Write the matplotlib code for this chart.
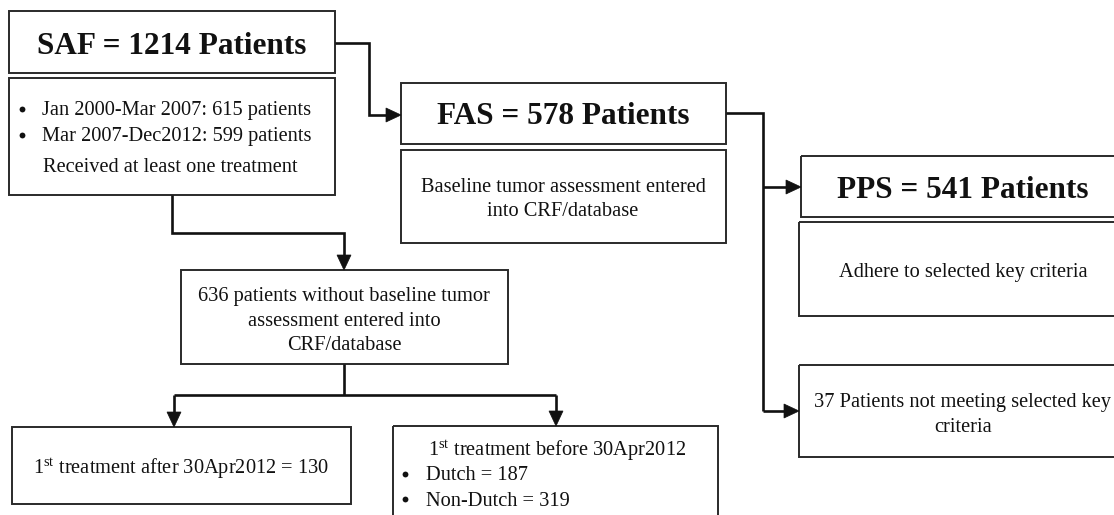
import matplotlib
matplotlib.use("Agg")
import matplotlib.pyplot as plt
from matplotlib.patches import Rectangle, Polygon

plt.rcParams['font.family'] = ['Liberation Serif', 'DejaVu Serif']
plt.rcParams['mathtext.fontset'] = 'custom'
plt.rcParams['mathtext.rm'] = 'Liberation Serif'
plt.rcParams['mathtext.it'] = 'Liberation Serif:italic'
plt.rcParams['mathtext.bf'] = 'Liberation Serif:bold'

# ---- content ----
titles = ["SAF = 1214 Patients", "FAS = 578 Patients", "PPS = 541 Patients"]
saf_bullets = ["Jan 2000-Mar 2007: 615 patients", "Mar 2007-Dec2012: 599 patients"]
saf_note = "Received at least one treatment"
fas_note = ["Baseline tumor assessment entered", "into CRF/database"]
pps_note = "Adhere to selected key criteria"
pps_excluded = ["37 Patients not meeting selected key", "criteria"]
no_baseline = ["636 patients without baseline tumor", "assessment entered into", "CRF/database"]
after_label = r"1$^{\mathrm{st}}$ treatment after 30Apr2012 = 130"
before_label = r"1$^{\mathrm{st}}$ treatment before 30Apr2012"
before_bullets = ["Dutch = 187", "Non-Dutch = 319"]

W, H = 1114, 515
fig = plt.figure(figsize=(W / 100, H / 100), dpi=100)
ax = fig.add_axes([0, 0, 1, 1])
ax.set_xlim(0, W)
ax.set_ylim(H, 0)
ax.axis('off')

BOX_LW = 1.4
BOX_C = '#2a2a2a'
LINE_LW = 1.9
LINE_C = '#111111'
FS_T = 22.5
FS = 14.7
DY = 3  # visual centring offset for text


def box(x0, y0, x1, y1):
    ax.add_patch(Rectangle((x0, y0), x1 - x0, y1 - y0, fill=False,
                           lw=BOX_LW, ec=BOX_C, clip_on=True))


def path(xs, ys):
    ax.plot(xs, ys, color=LINE_C, lw=LINE_LW, solid_joinstyle='miter',
            solid_capstyle='butt')


def head(x, y, direction, L=15, hw=7):
    if direction == 'right':
        pts = [(x, y), (x - L, y - hw), (x - L, y + hw)]
    else:  # down
        pts = [(x, y), (x - hw, y - L), (x + hw, y - L)]
    ax.add_patch(Polygon(pts, closed=True, fc=LINE_C, ec=LINE_C, lw=0.5))


def txt(x, y, s, size=FS, weight='normal', ha='center'):
    ax.text(x, y + DY, s, fontsize=size, fontweight=weight, ha=ha,
            va='center', color='#111111')


def bullet(x, y):
    ax.plot([x], [y], marker='o', ms=4.2, color='#111111', mec='none')


# ---- SAF ----
box(9, 11, 335, 73)
txt(172, 43, titles[0], FS_T, 'bold')
box(9, 78, 335, 195)
for i, b in enumerate(saf_bullets):
    y = 108 + i * 26
    bullet(22, y + 1)
    txt(42, y, b, ha='left')
txt(43, 165, saf_note, ha='left')

# ---- FAS ----
box(401, 83, 726, 144)
txt(563, 114, titles[1], FS_T, 'bold')
box(401, 150, 726, 243)
for i, s in enumerate(fas_note):
    txt(563, 185 + i * 23, s)

# ---- PPS ----
box(801, 156, 1125, 217)
txt(963, 187, titles[2], FS_T, 'bold')
box(799, 222, 1125, 316)
txt(963, 270, pps_note)
box(799, 365, 1125, 457)
for i, s in enumerate(pps_excluded):
    txt(963, 399 + i * 25, s)

# ---- no baseline ----
box(181, 270, 508, 364)
for i, s in enumerate(no_baseline):
    txt(344, 294 + i * 24, s)

# ---- bottom boxes ----
box(12, 427, 351, 504)
txt(181, 466, after_label)
box(393, 426, 718, 530)
txt(557, 448, before_label)
for i, s in enumerate(before_bullets):
    y = 473 + i * 25
    bullet(405, y + 1)
    txt(426, y, s, ha='left')

# ---- connectors ----
# SAF -> FAS
path([335, 369, 369, 386], [43, 43, 115, 115])
head(401, 115, 'right')
# FAS -> PPS / excluded
path([726, 763, 763], [113, 113, 411])
path([763, 786], [187, 187])
head(801, 187, 'right')
path([763, 784], [411, 411])
head(799, 411, 'right')
# SAF -> no baseline
path([172, 172, 344, 344], [195, 233, 233, 256])
head(344, 270, 'down')
# no baseline -> bottom boxes
path([344, 344], [364, 395])
path([174, 556], [395, 395])
path([174, 174], [395, 413])
head(174, 427, 'down')
path([556, 556], [395, 412])
head(556, 426, 'down')

fig.savefig('out.png', dpi=100, facecolor='white')
